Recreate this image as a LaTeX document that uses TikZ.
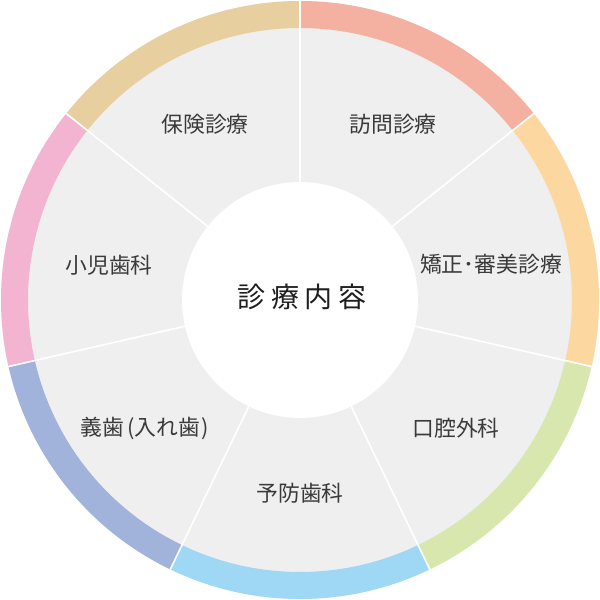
\documentclass[tikz,border=0pt]{standalone}
\usepackage{fontspec}
\newfontfamily\jp{Noto Sans CJK JP}
\newfontfamily\jpc[LetterSpace=21]{Noto Sans CJK JP}
\definecolor{bggray}{HTML}{EFEFEF}
\definecolor{cA}{HTML}{F4B1A1}
\definecolor{cB}{HTML}{FCD7A0}
\definecolor{cC}{HTML}{D8E7AE}
\definecolor{cD}{HTML}{9ED8F4}
\definecolor{cE}{HTML}{A1B2DB}
\definecolor{cF}{HTML}{F2B4D0}
\definecolor{cG}{HTML}{E8CF9F}
\definecolor{txt}{HTML}{3A3A3A}
\tikzset{
  lbl/.style={font=\jp\fontsize{21.8}{24}\selectfont, text=txt, inner sep=0pt},
  ctr/.style={font=\jpc\fontsize{28}{30}\selectfont, text=black!88, inner sep=0pt},
  sep/.style={white, line width=1.6pt}
}
\begin{document}
\begin{tikzpicture}[x=1pt,y=1pt]
\useasboundingbox (0,0) rectangle (600,600);
\coordinate (c) at (300,300);
\fill[bggray] (c) circle (299);
\foreach \s/\e/\col in {90/38.5714/cA, 38.5714/-12.8571/cB, -12.8571/-64.2857/cC,
  -64.2857/-115.7143/cD, -115.7143/-167.1429/cE, -167.1429/-218.5714/cF, -218.5714/-270/cG}{
  \fill[\col] ([shift={(\s:299)}]c) arc[start angle=\s, end angle=\e, radius=299]
    -- ([shift={(\e:272)}]c) arc[start angle=\e, end angle=\s, radius=272] -- cycle;
}
\foreach \a in {90, 38.5714, -12.8571, -64.2857, -115.7143, -167.1429, -218.5714}{
  \draw[sep] ([shift={(\a:110)}]c) -- ([shift={(\a:305)}]c);
}
\fill[white] (c) circle (118);
\node[ctr] (center) at (302,303) {診療内容};
\node[lbl] (houmon) at (393,476) {訪問診療};
\node[lbl] (kyousei) at (491,336) {矯正･審美診療};
\node[lbl] (kouku) at (456,172) {口腔外科};
\node[lbl] (yobou) at (300,107) {予防歯科};
\node[lbl] (gishi) at (145,172) {義歯\kern3pt(入れ歯\kern2pt)};
\node[lbl] (shouni) at (109,335) {小児歯科};
\node[lbl] (hoken) at (205,476) {保険診療};
\end{tikzpicture}
\end{document}
